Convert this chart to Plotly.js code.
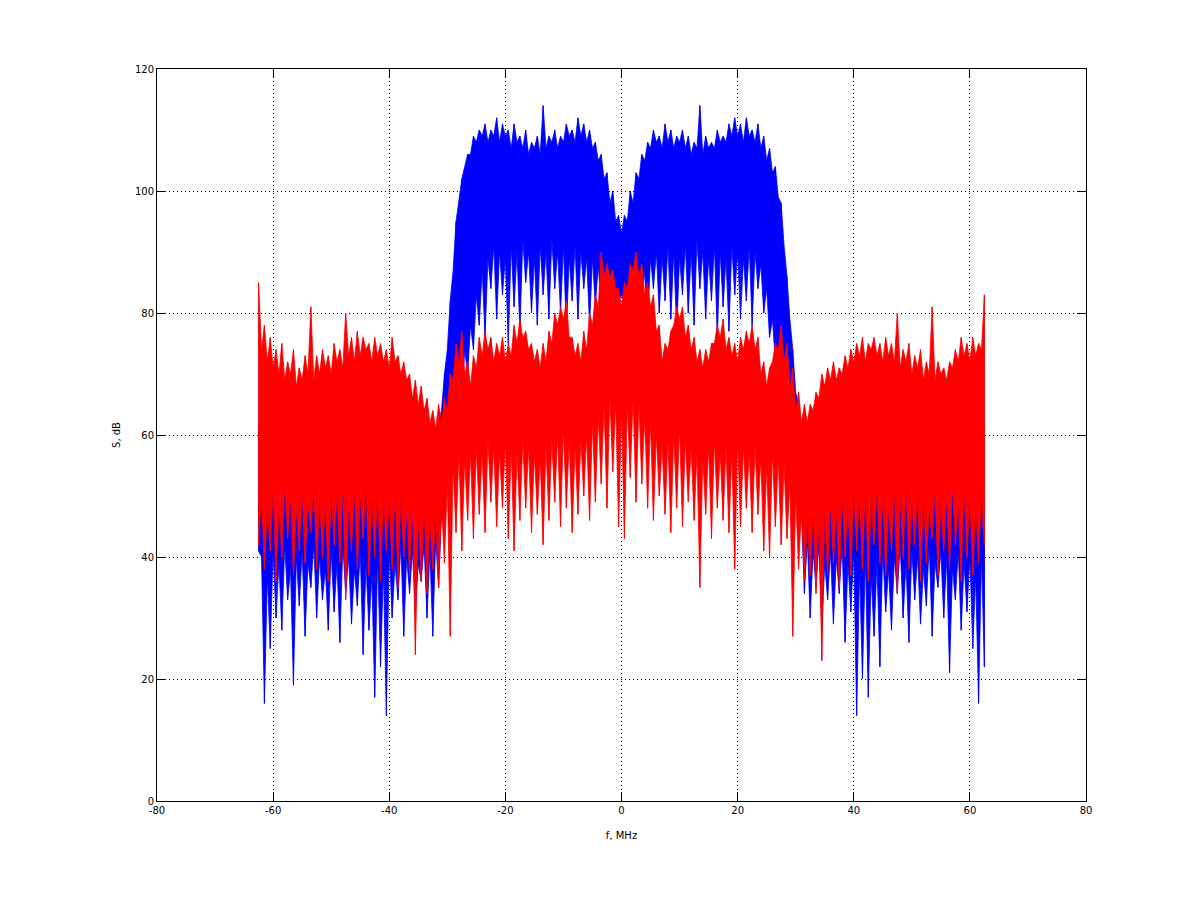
<!DOCTYPE html>
<html>
<head>
<meta charset="utf-8">
<script src="https://cdn.plot.ly/plotly-3.0.1.min.js"></script>
<style>html,body{margin:0;padding:0;background:#fff;}#chart{width:1200px;height:901px;}</style>
</head>
<body>
<div id="chart"></div>
<script>
// Frequency grids (MHz): core envelope at 1 MHz from -62 to 62, spikes at 1 MHz from -62.5 to 62.5
const coreStart = -62, coreCount = 125;
const spikeStart = -62.5, spikeCount = 126;

// Blue series: dense core band (upper / lower edge)
const blueCoreHi = [
  56,54,52,53,51,54,52,50,53,51,
  52,54,51,53,52,55,51,53,52,54,
  51,53,52,50,53,51,52,50,53,54,
  57,64,74,87,99,104,106,108,109,108,
  109,108,109,107,108,107,106,107,106,107,
  108,107,108,109,108,109,108,107,105,102,
  98,95,93,95,98,102,105,107,108,107,
  108,107,108,107,106,107,106,107,107,108,
  108,109,109,108,109,108,107,105,103,99,
  91,79,67,60,56,54,52,53,51,52,
  54,52,51,53,52,50,53,52,54,51,
  53,52,50,53,51,54,52,53,51,52,
  54,52,53,55,57
];
const blueCoreLo = [
  40,37,41,39,42,38,40,41,39,42,
  40,38,41,39,42,40,38,41,39,37,
  40,38,41,39,42,40,41,39,42,41,
  43,47,56,64,70,74,78,83,87,89,
  91,90,89,91,90,92,90,89,91,90,
  92,90,91,89,91,90,89,89,88,86,
  85,84,83,84,85,86,87,89,90,89,
  91,90,89,91,90,92,90,89,91,90,
  89,91,90,89,91,90,88,84,79,74,
  70,63,55,47,43,41,42,39,41,40,
  42,39,41,38,40,37,39,41,38,40,
  42,39,41,40,38,42,39,41,40,38,
  41,39,40,37,40
];
// Blue series: spike extremes (top / bottom)
const blueSpikeHi = [
  62,56,58,54,57,55,59,53,56,58,54,57,55,59,56,54,58,55,57,53,59,56,54,58,55,57,53,56,58,55,57,
  62,70,82,95,102,106,109,110,111,110,112,111,110,111,109,110,108,109,114,109,110,109,111,110,112,111,110,108,106,103,100,96,
  96,100,103,106,108,110,109,111,110,109,110,109,108,114,109,108,110,109,111,112,111,112,110,111,109,107,104,98,86,74,65,60,
  56,55,58,54,57,59,55,56,58,54,57,55,59,53,56,58,55,57,54,59,56,55,58,54,57,55,59,56,58,57,62
];
const blueSpikeLo = [
  41,16,25,30,28,33,19,32,27,35,30,33,28,31,26,34,29,32,24,28,17,22,14,30,33,27,34,31,36,30,27,
  35,45,55,62,66,70,74,78,76,84,79,83,75,81,77,85,80,78,83,79,84,80,77,82,79,84,78,81,80,79,81,82,
  81,80,79,81,78,84,80,82,79,77,83,80,78,84,79,82,76,81,77,83,79,82,78,84,80,76,72,67,60,52,44,34,
  30,35,28,33,29,34,26,31,14,20,17,27,22,31,28,34,30,26,33,29,32,27,35,30,21,33,28,31,25,16,22
];

// Red series: dense core band
const redCoreHi = [
  74,72,71,70,69,70,68,69,70,69,
  70,71,70,72,71,73,72,73,74,72,
  73,72,71,72,70,69,66,65,64,62,
  61,62,64,69,72,70,68,71,73,74,
  72,73,72,73,75,76,74,72,71,72,
  75,78,79,76,73,72,74,78,81,86,
  86,84,81,84,87,86,83,81,77,72,
  74,78,79,76,74,72,71,72,75,76,
  74,73,72,74,75,74,70,68,72,74,
  72,68,64,62,62,64,66,68,69,69,
  70,71,72,73,72,74,73,72,73,72,
  71,72,70,71,69,70,69,70,69,71,
  72,73,72,73,74
];
const redCoreLo = [
  50,48,51,49,52,50,48,51,49,52,
  50,49,51,50,52,49,51,50,52,49,
  51,50,49,51,50,48,49,47,48,46,
  47,49,52,55,57,56,57,58,57,59,
  58,57,59,58,57,59,58,57,56,58,
  59,60,61,59,58,59,60,62,63,65,
  66,65,64,65,66,65,63,62,60,58,
  59,60,61,59,58,57,56,58,59,57,
  58,57,59,58,57,58,56,55,57,56,
  55,52,50,48,46,47,46,48,49,48,
  50,49,51,50,52,49,51,50,48,51,
  50,52,49,51,50,48,51,49,50,52,
  49,51,50,48,50
];
// Red series: spike extremes
const redSpikeHi = [
  85,78,76,74,75,72,74,71,73,81,73,74,73,75,74,80,76,77,76,75,76,75,74,76,73,72,70,69,68,66,64,
  65,66,70,75,77,72,73,76,77,76,75,76,75,78,79,77,75,74,75,77,80,81,82,76,75,77,80,83,90,88,87,84,
  85,88,90,88,85,83,78,75,77,81,81,78,76,74,74,75,78,79,76,75,76,77,78,76,72,71,75,78,75,71,67,65,
  65,67,70,71,72,71,73,74,75,76,75,76,75,76,75,80,74,75,73,74,72,81,72,71,72,74,76,75,76,75,83
];
const redSpikeLo = [
  42,38,41,36,40,43,37,41,39,44,38,40,36,42,39,33,41,38,43,37,40,36,41,38,35,40,37,24,36,34,38,
  35,39,27,44,41,46,43,47,44,49,45,48,43,41,46,48,44,47,42,46,49,45,48,44,47,50,46,49,52,48,54,45,
  43,53,49,52,48,46,50,47,44,48,45,49,46,35,47,43,48,46,44,38,45,48,44,47,41,40,45,42,43,27,38,36,
  37,34,23,37,39,35,40,37,41,38,36,42,39,37,41,34,40,38,42,36,39,43,37,41,38,42,36,40,37,39,42
];

const xTicks = [-80,-60,-40,-20,0,20,40,60,80];
const yTicks = [0,20,40,60,80,100,120];
const xLabel = 'f, MHz';
const yLabel = 'S, dB';

const coreFreq = Array.from({length: coreCount}, (_, i) => coreStart + i);
const spikeFreq = Array.from({length: spikeCount}, (_, i) => spikeStart + i);

// Filled band whose edges alternate between core edge and spike extreme
function bandTrace(cHi, cLo, sHi, sLo, color) {
  const tx = [], ty = [], bx = [], by = [];
  for (let i = 0; i < spikeFreq.length; i++) {
    tx.push(spikeFreq[i]); ty.push(sHi[i]);
    bx.push(spikeFreq[i]); by.push(sLo[i]);
    if (i < coreFreq.length) {
      tx.push(coreFreq[i]); ty.push(cHi[i]);
      bx.push(coreFreq[i]); by.push(cLo[i]);
    }
  }
  return {
    type: 'scatter', mode: 'lines',
    x: tx.concat(bx.reverse()),
    y: ty.concat(by.reverse()),
    fill: 'toself', fillcolor: color,
    line: {color: color, width: 0.8},
    hoverinfo: 'skip', showlegend: false
  };
}
function spikeTrace(hi, lo, color) {
  const x = [], y = [];
  for (let i = 0; i < spikeFreq.length; i++) {
    x.push(spikeFreq[i], spikeFreq[i], null);
    y.push(lo[i], hi[i], null);
  }
  return {
    type: 'scatter', mode: 'lines', x: x, y: y,
    line: {color: color, width: 1},
    connectgaps: false, hoverinfo: 'skip', showlegend: false
  };
}

const data = [
  bandTrace(blueCoreHi, blueCoreLo, blueSpikeHi, blueSpikeLo, '#0000ff'),
  spikeTrace(blueSpikeHi, blueSpikeLo, '#0000ff'),
  bandTrace(redCoreHi, redCoreLo, redSpikeHi, redSpikeLo, '#ff0000'),
  spikeTrace(redSpikeHi, redSpikeLo, '#ff0000')
];

const axisCommon = {
  showline: true, linecolor: '#000', linewidth: 1, mirror: 'ticks',
  ticks: 'inside', ticklen: 9, tickcolor: '#000', tickwidth: 1,
  showgrid: true, gridcolor: '#000', gridwidth: 1, griddash: '1px,3px',
  zeroline: false, tickfont: {family: 'DejaVu Sans', size: 10, color: '#000'}
};

const layout = {
  width: 1200, height: 901,
  margin: {l: 157, r: 114, t: 69, b: 100},
  paper_bgcolor: '#fff', plot_bgcolor: '#fff',
  xaxis: Object.assign({}, axisCommon, {
    range: [-80, 80], tickvals: xTicks, ticktext: xTicks.map(String),
    title: {text: xLabel, font: {family: 'DejaVu Sans', size: 10, color: '#000'}, standoff: 16}
  }),
  yaxis: Object.assign({}, axisCommon, {
    range: [0, 120], tickvals: yTicks, ticktext: yTicks.map(String),
    title: {text: yLabel, font: {family: 'DejaVu Sans', size: 10, color: '#000'}, standoff: 12}
  })
};

Plotly.newPlot('chart', data, layout, {staticPlot: true, displayModeBar: false});
</script>
</body>
</html>
